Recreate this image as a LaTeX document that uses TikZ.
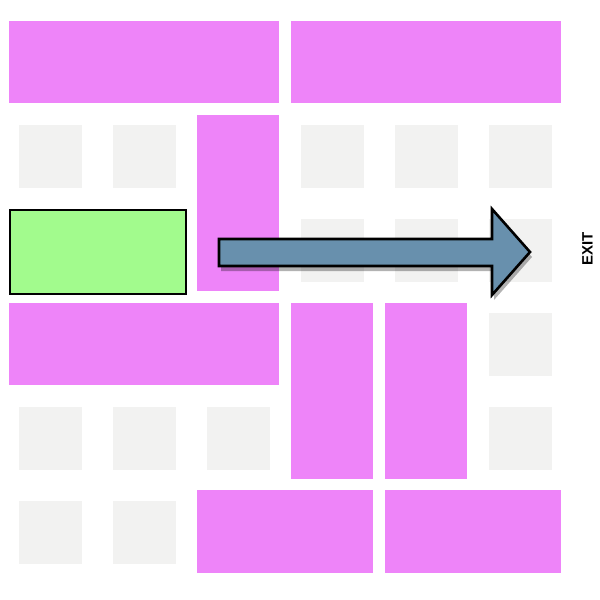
\documentclass[tikz,border=0pt]{standalone}
\usepackage{fontspec}
\setmainfont{Liberation Sans}
\newfontfamily\exitfont{Liberation Sans Bold}
\usetikzlibrary{shadows}
\definecolor{carpink}{HTML}{EE84F9}
\definecolor{cellgray}{HTML}{F2F2F1}
\definecolor{cargreen}{HTML}{A2FB8D}
\definecolor{arrowblue}{HTML}{6890AD}
\begin{document}
\begin{tikzpicture}[x=1pt,y=-1pt,
  cell/.style={fill=cellgray},
  car/.style={fill=carpink},
  target/.style={fill=cargreen,draw=black,line width=2.2pt},
  exitarrow/.style={fill=arrowblue,draw=black,line width=2.6pt,line join=miter,
    drop shadow={shadow xshift=2pt,shadow yshift=-5pt,opacity=0.3,fill=black}}]
\useasboundingbox[fill=white] (0,0) rectangle (600,600);
% gray cells
\foreach \c/\r in {0/1,1/1,3/1,4/1,5/1, 3/2,4/2,5/2, 5/3, 0/4,1/4,2/4,5/4, 0/5,1/5}{
  \fill[cell] ({19+94*\c},{31+94*\r}) rectangle ++(63,63);
}
% pink cars
\fill[car] (9,21) rectangle (279,103);
\fill[car] (291,21) rectangle (561,103);
\fill[car] (197,115) rectangle (279,291);
\fill[car] (9,303) rectangle (279,385);
\fill[car] (291,303) rectangle (373,479);
\fill[car] (385,303) rectangle (467,479);
\fill[car] (197,490) rectangle (373,573);
\fill[car] (385,490) rectangle (561,573);
% target car
\draw[target] (10,210) rectangle (186,294);
% arrow
\draw[exitarrow] (219,239) -- (492,239) -- (492,209) -- (530,252) -- (492,295) -- (492,266) -- (219,266) -- cycle;
% exit label
\node[rotate=90,inner sep=0pt,font=\exitfont\fontsize{15}{18}\selectfont] (exit) at (587.5,249) {EXIT};
\end{tikzpicture}
\end{document}
